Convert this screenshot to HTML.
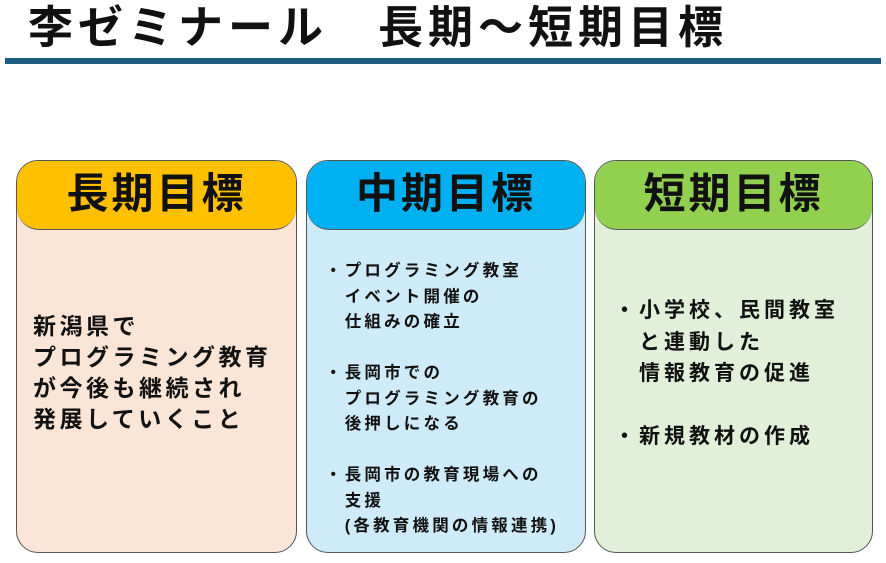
<!DOCTYPE html>
<html><head><meta charset="utf-8"><style>
body{margin:0;width:886px;height:563px;background:#fff;position:relative;overflow:hidden;font-family:"Liberation Sans","Noto Sans CJK JP",sans-serif;font-weight:bold;color:#111}
.t{position:absolute;left:28px;top:0px;font-size:45px;letter-spacing:5px;line-height:56px;white-space:pre}
.bar{position:absolute;left:5px;top:58px;width:876px;height:6px;background:#1f5f80}
.box{position:absolute;top:160px;height:393px;border:1.5px solid #555;border-radius:22px;overflow:hidden;box-sizing:border-box}
.hd{height:68px;border-bottom:1.5px solid #555;border-radius:0 0 22px 22px;text-align:center;font-size:42px;letter-spacing:3px;line-height:66px}
.tx{position:absolute;white-space:pre}
</style></head><body>
<div class="t">李ゼミナール　長期～短期目標</div>
<div class="bar"></div>
<div class="box" style="left:16px;width:281px;background:#FBE5D6"><div class="hd" style="background:#FFC000">長期目標</div></div>
<div class="box" style="left:306px;width:280px;background:#CDEBF8"><div class="hd" style="background:#00B0F0">中期目標</div></div>
<div class="box" style="left:594px;width:279px;background:#E2F0D9"><div class="hd" style="background:#92D050">短期目標</div></div>
<div class="tx" style="left:33px;top:311px;font-size:23px;letter-spacing:3.5px;line-height:31px">新潟県で
プログラミング教育
が今後も継続され
発展していくこと</div>
<div class="tx" style="left:325px;top:259px;font-size:16.5px;letter-spacing:3.2px;line-height:25.5px">・プログラミング教室
　イベント開催の
　仕組みの確立

・長岡市での
　プログラミング教育の
　後押しになる

・長岡市の教育現場への
　支援
　(各教育機関の情報連携)</div>
<div class="tx" style="left:614px;top:295px;font-size:21px;letter-spacing:4px;line-height:31.5px">・小学校、民間教室
　と連動した
　情報教育の促進

・新規教材の作成</div>
</body></html>
